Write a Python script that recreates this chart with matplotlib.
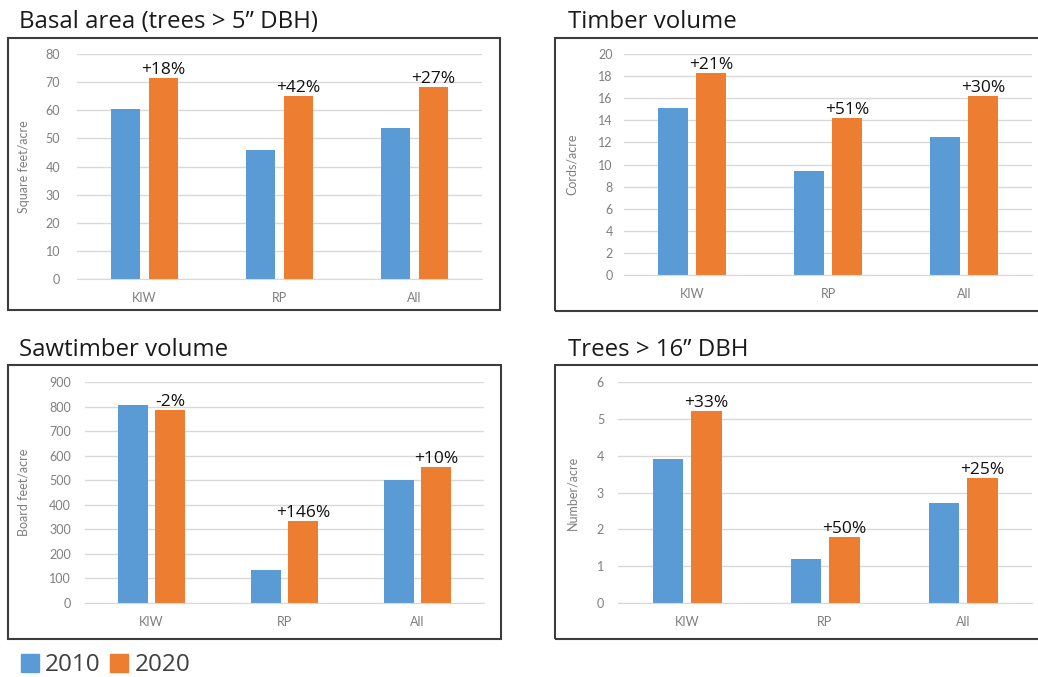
import matplotlib
matplotlib.use("Agg")
import matplotlib.pyplot as plt
from matplotlib.patches import Rectangle, Patch
import numpy as np

# stand groups and survey years
groups = ["KIW", "RP", "All"]
years = ["2010", "2020"]

# basal area, square feet/acre
basal_2010 = [60.5, 46.0, 53.8]
basal_2020 = [71.5, 65.0, 68.2]
basal_pct = ["+18%", "+42%", "+27%"]

# timber volume, cords/acre
timber_2010 = [15.1, 9.4, 12.5]
timber_2020 = [18.3, 14.2, 16.2]
timber_pct = ["+21%", "+51%", "+30%"]

# sawtimber volume, board feet/acre
saw_2010 = [805, 135, 500]
saw_2020 = [787, 335, 553]
saw_pct = ["-2%", "+146%", "+10%"]

# trees > 16" DBH, number/acre
big_2010 = [3.9, 1.2, 2.72]
big_2020 = [5.2, 1.8, 3.4]
big_pct = ["+33%", "+50%", "+25%"]

BLUE = "#5B9BD5"
ORANGE = "#ED7D31"
GRID = "#D9D9D9"
TICK = "#7F7F7F"
W, H = 1038.0, 677.0

plt.rcParams["font.family"] = ["Open Sans", "DejaVu Sans"]

fig = plt.figure(figsize=(10.38, 6.77), dpi=100)


def box(left, top, right, bottom):
    fig.add_artist(Rectangle((left / W, 1 - bottom / H), (right - left) / W,
                             (bottom - top) / H, transform=fig.transFigure,
                             fill=False, ec="#3C3C3C", lw=1.5))


def panel(title, tx, ty, frame, plot, ytop, ystep, ylabel, ylx, ypad,
          v2010, v2020, pct):
    box(*frame)
    fig.text(tx / W, 1 - ty / H, title, fontsize=17.3, color="#1a1a1a",
             va="center", ha="left")
    left, top, right, bottom = plot
    ax = fig.add_axes([left / W, 1 - bottom / H, (right - left) / W,
                       (bottom - top) / H])
    x = np.arange(len(groups))
    ax.bar(x - 0.14, v2010, width=0.22, color=BLUE)
    ax.bar(x + 0.14, v2020, width=0.22, color=ORANGE)
    for xi, v, s in zip(x, v2020, pct):
        ax.annotate(s, (xi + 0.14, v), xytext=(0, 0), textcoords="offset points",
                    ha="center", va="bottom", fontsize=12.5, color="#111111")
    ax.set_xlim(-0.5, 2.5)
    ax.set_ylim(0, ytop)
    ax.set_yticks(np.arange(0, ytop + ystep / 2, ystep))
    ax.set_xticks(x)
    ax.set_xticklabels(groups, family="Lato")
    for t in ax.get_yticklabels():
        t.set_family("Lato")
    ax.tick_params(length=0, labelsize=9, labelcolor=TICK)
    ax.tick_params(axis="x", pad=9)
    ax.tick_params(axis="y", pad=ypad)
    ax.grid(axis="y", color=GRID, lw=1)
    ax.set_axisbelow(True)
    for s in ["top", "right", "left"]:
        ax.spines[s].set_visible(False)
    ax.spines["bottom"].set_color(GRID)
    ax.set_ylabel(ylabel, fontsize=9, color=TICK, family="Lato")
    ax.yaxis.set_label_coords(-(left - ylx) / (right - left), 0.5)
    return ax


panel("Basal area (trees > 5\u201d DBH)", 19, 22, (8, 38, 500, 310),
      (77, 54, 482, 279), 80, 10, "Square feet/acre", 30, 12,
      basal_2010, basal_2020, basal_pct)
panel("Timber volume", 568, 22, (555, 38, 1050, 311),
      (624, 54, 1032, 275), 20, 2, "Cords/acre", 578, 8,
      timber_2010, timber_2020, timber_pct)
panel("Sawtimber volume", 19, 350, (8, 365, 501, 639),
      (85, 382, 484, 603), 900, 100, "Board feet/acre", 30, 10,
      saw_2010, saw_2020, saw_pct)
panel("Trees > 16\u201d DBH", 568, 350, (555, 365, 1050, 639),
      (618, 382, 1032, 603), 6, 1, "Number/acre", 578, 10,
      big_2010, big_2020, big_pct)

handles = [Patch(color=BLUE), Patch(color=ORANGE)]
fig.legend(handles, years, loc="lower left", bbox_to_anchor=(6 / W, -0.022),
           ncol=2, frameon=False, fontsize=17.5, handlelength=0.75,
           handleheight=0.75, handletextpad=0.25, columnspacing=0.4,
           labelcolor="#404040", borderaxespad=0.2)

fig.savefig("out.png", dpi=100, facecolor="white")
